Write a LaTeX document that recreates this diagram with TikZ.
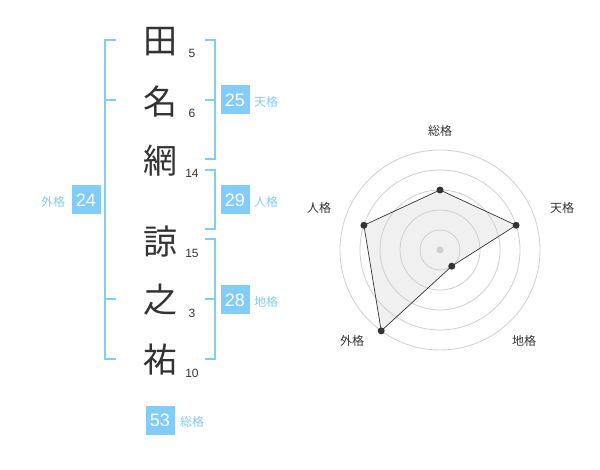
\documentclass[tikz,border=0pt]{standalone}
\usepackage{fontspec}
\setmainfont{Liberation Sans}
\newfontfamily\jpfont{Noto Sans CJK JP}
\definecolor{kakublue}{RGB}{129,204,250}
\definecolor{inkgray}{RGB}{51,51,51}
\definecolor{ringgray}{RGB}{206,206,206}
\definecolor{areagray}{RGB}{240,240,240}

\begin{document}
\begin{tikzpicture}[x=1pt, y=-1pt,
    kanji/.style={font=\jpfont\fontsize{34}{34}\selectfont, text=inkgray, inner sep=0pt},
    kakusu/.style={font=\fontsize{12}{12}\selectfont, text=inkgray, inner sep=0pt},
    kakubox/.style={fill=kakublue, text=white, minimum size=29pt, inner sep=0pt, font=\fontsize{18}{18}\selectfont},
    kakuname/.style={font=\jpfont\fontsize{12}{12}\selectfont, text=kakublue, inner sep=0pt},
    bracket/.style={draw=kakublue, line width=2pt},
    axisname/.style={font=\jpfont\fontsize{12}{12}\selectfont, text=inkgray, inner sep=0pt},
    chartdot/.style={circle, fill=inkgray, inner sep=0pt, minimum size=7pt}]
      \useasboundingbox (0,0) rectangle (600,470);

      \draw[bracket] (116,40) -- (105,40) -- (105,359) -- (116,359);
      \draw[bracket] (105,100) -- (116,100);
      \draw[bracket] (105,299) -- (116,299);

      \draw[bracket] (205,40) -- (215,40) -- (215,159) -- (205,159);
      \draw[bracket] (205,100) -- (215,100);
      \draw[bracket] (205,170) -- (215,170) -- (215,229) -- (205,229);
      \draw[bracket] (205,239) -- (215,239) -- (215,359) -- (205,359);
      \draw[bracket] (205,299) -- (215,299);

      \node[kanji] (ta) at (160,42) {田};
      \node[kanji] (na) at (160,102) {名};
      \node[kanji] (ami) at (160,161) {網};
      \node[kanji] (ryo) at (160,242) {諒};
      \node[kanji] (no) at (160,300) {之};
      \node[kanji] (suke) at (160,360) {祐};

      \node[kakusu] (ta-n) at (192,53) {5};
      \node[kakusu] (na-n) at (192,113) {6};
      \node[kakusu] (ami-n) at (192,173) {14};
      \node[kakusu] (ryo-n) at (192,253) {15};
      \node[kakusu] (no-n) at (192,313) {3};
      \node[kakusu] (suke-n) at (192,373) {10};

      \node[kakubox] (gai) at (86,200) {24};
      \node[kakuname] (gai-l) at (53,202) {外格};
      \node[kakubox] (ten) at (235,100) {25};
      \node[kakuname] (ten-l) at (266,102) {天格};
      \node[kakubox] (jin) at (235,200) {29};
      \node[kakuname] (jin-l) at (266,202) {人格};
      \node[kakubox] (chi) at (235,300) {28};
      \node[kakuname] (chi-l) at (266,302) {地格};
      \node[kakubox] (sou) at (160,420) {53};
      \node[kakuname] (sou-l) at (192,422) {総格};

      \coordinate (c) at (440,250);
      \path (c) ++(-90:60) coordinate (p-sou);
      \path (c) ++(-18:80) coordinate (p-ten);
      \path (c) ++(54:20) coordinate (p-chi);
      \path (c) ++(126:100) coordinate (p-gai);
      \path (c) ++(198:80) coordinate (p-jin);

      \fill[areagray] (p-sou) -- (p-ten) -- (p-chi) -- (p-gai) -- (p-jin) -- cycle;
      \foreach \r in {20,40,...,100}
        \draw[ringgray, line width=0.8pt] (c) circle[radius=\r];
      \draw[inkgray, line width=0.7pt] (p-sou) -- (p-ten) -- (p-chi) -- (p-gai) -- (p-jin) -- cycle;
      \foreach \k in {sou,ten,chi,gai,jin}
        \node[chartdot] (d-\k) at (p-\k) {};
      \node[circle, fill=ringgray, inner sep=0pt, minimum size=7pt] (mid) at (c) {};

      \node[axisname] (a-sou) at (440,131) {総格};
      \node[axisname] (a-ten) at (562,208) {天格};
      \node[axisname] (a-chi) at (524,341) {地格};
      \node[axisname] (a-gai) at (352,341) {外格};
      \node[axisname] (a-jin) at (319,208) {人格};
    \end{tikzpicture}
\end{document}
